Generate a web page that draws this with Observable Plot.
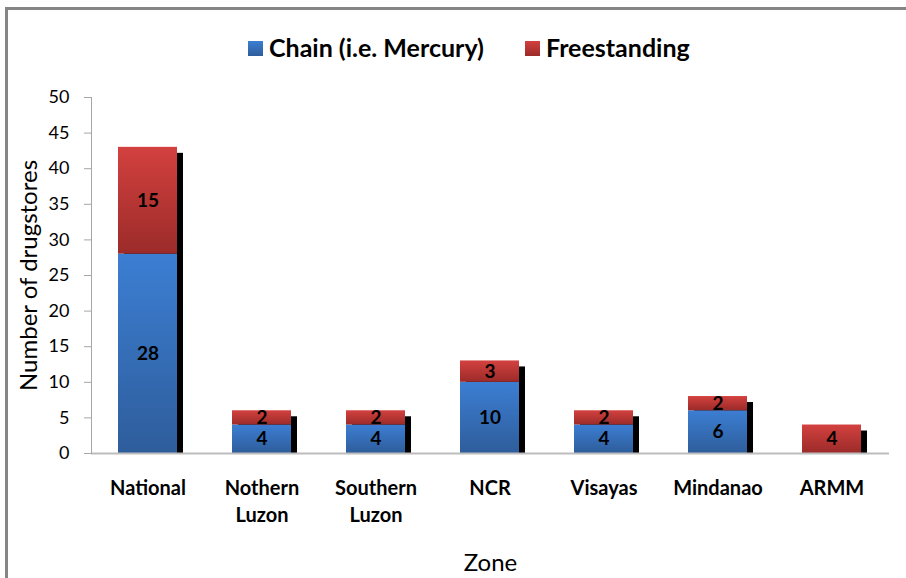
<!DOCTYPE html>
<html>
<head>
<meta charset="utf-8">
<script src="https://cdn.jsdelivr.net/npm/d3@7"></script>
<script src="https://cdn.jsdelivr.net/npm/@observablehq/plot@0.6"></script>
<style>
  html, body { margin: 0; padding: 0; background: #fff; }
  #wrap { position: relative; width: 906px; height: 578px; overflow: hidden; font-family: Lato, "Open Sans", sans-serif; }
  .bt { position: absolute; left: 5px; top: 7px; width: 901px; height: 3px; background: #858585; }
  .bl { position: absolute; left: 5px; top: 7px; width: 3px; height: 571px; background: #858585; }
  .leg { position: absolute; top: 32px; height: 30px; display: flex; align-items: center; font-weight: bold; font-size: 25px; color: #000; white-space: nowrap; }
  .sw { width: 15px; height: 15px; margin-right: 6px; margin-top: 3px; }
  #chart { position: absolute; left: 0; top: 80px; }
</style>
</head>
<body>
<div id="wrap">
  <div class="bt"></div>
  <div class="bl"></div>
  <div class="leg" style="left:248px"><div class="sw" style="background:linear-gradient(#3C7ED3,#2E5D9B)"></div><span id="l0"></span></div>
  <div class="leg" style="left:525px"><div class="sw" style="background:linear-gradient(#D3413F,#9B2B29)"></div><span id="l1"></span></div>
  <div id="chart"></div>
</div>
<script>
const zones = ["National", "Nothern Luzon", "Southern Luzon", "NCR", "Visayas", "Mindanao", "ARMM"];
const chain = [28, 4, 4, 10, 4, 6, 0];
const freestanding = [15, 2, 2, 3, 2, 2, 4];
const seriesNames = ["Chain (i.e. Mercury)", "Freestanding"];
const yTicks = [0, 5, 10, 15, 20, 25, 30, 35, 40, 45, 50];
const xTitle = "Zone";
const yTitle = "Number of drugstores";

document.getElementById("l0").textContent = seriesNames[0];
document.getElementById("l1").textContent = seriesNames[1];

const data = zones.flatMap((z, i) => [
  {zone: z, series: seriesNames[0], value: chain[i]},
  {zone: z, series: seriesNames[1], value: freestanding[i]}
]);

const svg = Plot.plot({
  width: 906,
  height: 498,
  marginLeft: 91,
  marginRight: 17,
  marginTop: 17,
  marginBottom: 125,
  style: {fontFamily: "Lato, 'Open Sans', sans-serif", background: "transparent", overflow: "visible"},
  x: {domain: zones, paddingInner: 0.48, paddingOuter: 0.24, axis: null},
  y: {domain: [0, 50], axis: null},
  color: {domain: seriesNames, range: ["url(#gBlue)", "url(#gRed)"]},
  marks: [
    Plot.barY(data, Plot.groupX({y: "sum"}, {x: "zone", y: "value", fill: "black", dx: 6, insetTop: 6})),
    Plot.barY(data, {x: "zone", y: "value", fill: "series"}),
    Plot.text(data, Plot.stackY({x: "zone", y: "value", text: d => d.value > 0 ? String(d.value) : "", fontWeight: "bold", fontSize: 19, fill: "black"})),
    Plot.ruleY([0], {stroke: "#bdbdbd", strokeWidth: 2}),
    Plot.frame({anchor: "left", stroke: "#a6a6a6"}),
    Plot.axisY({ticks: yTicks, tickSize: 7, tickPadding: 15, fontSize: 18, stroke: "#a6a6a6", fill: "black", label: null}),
    Plot.axisX({tickSize: 0, tickPadding: 23, fontSize: 20, fontWeight: "bold", fill: "black", lineHeight: 1.33, tickFormat: d => d.replace(" ", "\n"), label: null}),
    Plot.text([xTitle], {frameAnchor: "bottom", dy: 110, lineAnchor: "middle", fontSize: 24, fill: "black"}),
    Plot.text([yTitle], {frameAnchor: "left", dx: -62, rotate: -90, textAnchor: "middle", lineAnchor: "middle", fontSize: 24, fill: "black"})
  ]
});

const defs = d3.select(svg).insert("defs", ":first-child");
const gb = defs.append("linearGradient").attr("id", "gBlue").attr("x1", 0).attr("y1", 0).attr("x2", 0).attr("y2", 1);
gb.append("stop").attr("offset", "0%").attr("stop-color", "#3C7ED3");
gb.append("stop").attr("offset", "100%").attr("stop-color", "#2E5D9B");
const gr = defs.append("linearGradient").attr("id", "gRed").attr("x1", 0).attr("y1", 0).attr("x2", 0).attr("y2", 1);
gr.append("stop").attr("offset", "0%").attr("stop-color", "#D3413F");
gr.append("stop").attr("offset", "100%").attr("stop-color", "#9B2B29");

document.getElementById("chart").appendChild(svg);
</script>
</body>
</html>
